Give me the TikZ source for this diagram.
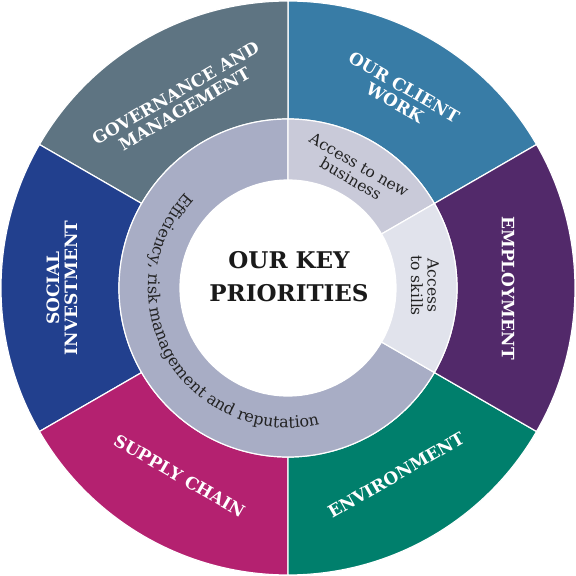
\documentclass[tikz,border=0pt]{standalone}
\usepackage{fontspec}
\setmainfont{DejaVu Serif}
\usetikzlibrary{decorations.text}
\definecolor{cwork}{HTML}{387CA6}
\definecolor{cgov}{HTML}{5E7482}
\definecolor{csocial}{HTML}{22408E}
\definecolor{csupply}{HTML}{B42170}
\definecolor{cenv}{HTML}{007F6C}
\definecolor{cempl}{HTML}{52296A}
\definecolor{ceff}{HTML}{A8ADC5}
\definecolor{cnewbiz}{HTML}{C9CAD9}
\definecolor{cskills}{HTML}{E1E3EC}
\definecolor{textgray}{HTML}{222222}
\definecolor{textblack}{HTML}{1A1A1A}
\tikzset{
  segment/.style={draw=white, line width=1.2pt},
  outerlabel/.style={text=white, font=\bfseries\fontsize{17}{18}\selectfont, align=center, inner sep=0pt},
  ringlabel/.style={text=textgray, font=\fontsize{15.5}{16.5}\selectfont, align=center, inner sep=0pt},
  centerlabel/.style={text=textblack, font=\bfseries\fontsize{23}{33}\selectfont, align=center, inner sep=0pt}
}
\newcommand\annseg[5]{% colour, start angle, end angle, inner radius, outer radius
  \path[fill=#1, segment] (#2:#5) arc[start angle=#2, end angle=#3, radius=#5]
    -- (#3:#4) arc[start angle=#3, end angle=#2, radius=#4] -- cycle;}
\begin{document}
\begin{tikzpicture}[x=1pt, y=1pt]
  \useasboundingbox[fill=white] (-288,-288) rectangle (288,288);
  % outer ring
  \annseg{cwork}{30}{90}{169pt}{287pt}
  \annseg{cgov}{90}{150}{169pt}{287pt}
  \annseg{csocial}{150}{210}{169pt}{287pt}
  \annseg{csupply}{210}{270}{169pt}{287pt}
  \annseg{cenv}{270}{330}{169pt}{287pt}
  \annseg{cempl}{-30}{30}{169pt}{287pt}
  % inner ring
  \annseg{ceff}{90}{330}{108pt}{169pt}
  \annseg{cnewbiz}{30}{90}{108pt}{169pt}
  \annseg{cskills}{-30}{30}{108pt}{169pt}
  \fill[white] (0,0) circle[radius=108pt];
  % outer labels
  \node[outerlabel, rotate=-30] (work) at (60:223) {OUR CLIENT\\WORK};
  \node[outerlabel, rotate=30] (gov) at (120:216) {GOVERNANCE AND\\MANAGEMENT};
  \node[outerlabel, rotate=90] (social) at (180:226) {SOCIAL\\INVESTMENT};
  \node[outerlabel, rotate=-30] (supply) at (-120:217) {SUPPLY CHAIN};
  \node[outerlabel, rotate=30] (env) at (-60:216) {ENVIRONMENT};
  \node[outerlabel, rotate=-90] (empl) at (0:220) {EMPLOYMENT};
  % inner ring labels
  \node[ringlabel, rotate=-30] (newbiz) at (60:134) {Access to new\\business};
  \node[ringlabel, rotate=-90] (skills) at (1:137) {Access\\to skills};
  \path[decorate, decoration={text along path, text align=center, text color=textgray,
      text={|\fontsize{16}{17}\selectfont|Efficiency, risk management and reputation}}]
    (100:140pt) arc[start angle=100, end angle=320, radius=140pt];
  % centre
  \node[centerlabel] (title) at (1,11) {OUR KEY\\PRIORITIES};
\end{tikzpicture}
\end{document}
